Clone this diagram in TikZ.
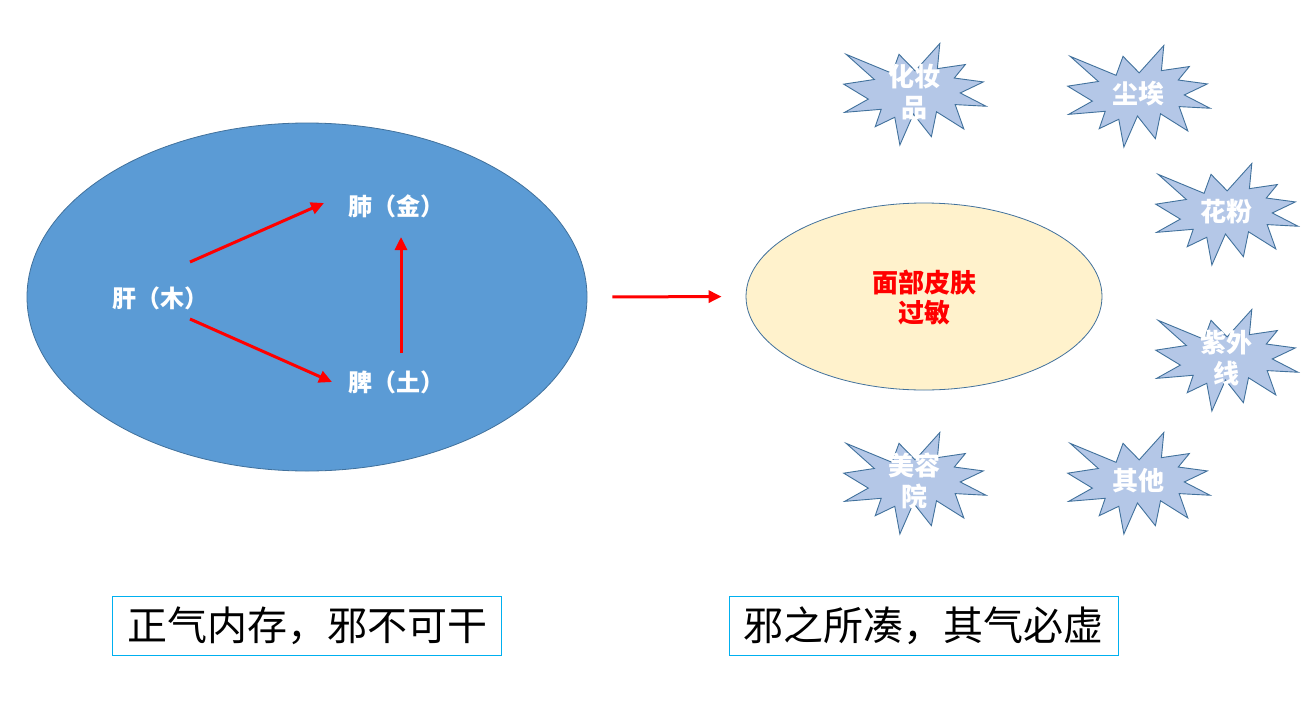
\documentclass[tikz,border=0pt]{standalone}
\usepackage{fontspec}
\setmainfont{Noto Sans CJK SC}
\usetikzlibrary{shapes.geometric,arrows.meta}
\definecolor{bigblue}{HTML}{5B9BD5}
\definecolor{edgeblue}{HTML}{41719C}
\definecolor{burstfill}{HTML}{B4C7E7}
\definecolor{paleyellow}{HTML}{FFF2CC}
\definecolor{boxcyan}{HTML}{00B0F0}
\definecolor{pureRed}{HTML}{FF0000}
\tikzset{
  burst/.style={fill=burstfill,draw=edgeblue,line width=0.9pt,line join=miter},
  bursttext/.style={text=white,align=center,inner sep=0pt,font=\fontsize{26}{31}\selectfont\bfseries},
  elemtext/.style={text=white,inner sep=0pt,font=\fontsize{24}{29}\selectfont\bfseries},
  redarrow/.style={draw=pureRed,line width=3pt,-{Triangle[length=13pt,width=12pt]}},
  quotebox/.style={draw=boxcyan,line width=1pt,minimum width=389pt,minimum height=59pt,inner sep=0pt,font=\fontsize{40}{44}\selectfont,text=black}
}
\newcommand{\mkburst}[4]{%
  \begin{scope}[shift={(#2,#3)},xscale=143,yscale=102]
    \draw[burst] (0.5047,0.2734) -- (0.3916,0.1111) -- (0.3434,0.2975) -- (0.0220,0.1111)
      -- (0.2191,0.3575) -- (0.0049,0.4036) -- (0.1772,0.5500) -- (0.0113,0.6800)
      -- (0.2672,0.6500) -- (0.2254,0.8203) -- (0.3620,0.7282) -- (0.3977,1.0)
      -- (0.4925,0.6962) -- (0.6180,0.9185) -- (0.6539,0.6741) -- (0.8448,0.8424)
      -- (0.7842,0.6039) -- (1.0,0.6200) -- (0.8199,0.4898) -- (0.9814,0.3816)
      -- (0.7781,0.3434) -- (0.8556,0.2111) -- (0.6600,0.2513) -- (0.6770,0.0049) -- cycle;
  \end{scope}
  \node[bursttext] (#1) at (#2+71,#3+49) {#4};
}
\begin{document}
\begin{tikzpicture}[x=1pt,y=-1pt]
\fill[white] (0,0) rectangle (1308,707);
\useasboundingbox (0,0) rectangle (1308,707);

% left ellipse
\node[ellipse,fill=bigblue,draw=edgeblue,line width=0.8pt,minimum width=560pt,minimum height=348pt,inner sep=0pt] (body) at (307,297) {};
\node[elemtext] (gan) at (160,298) {肝（木）};
\node[elemtext] (fei) at (396,206) {肺（金）};
\node[elemtext] (pi) at (396,382) {脾（土）};
\coordinate (ganA) at (190,262);
\coordinate (feiA) at (324,203);
\coordinate (ganB) at (190,319);
\coordinate (piA) at (332,382);
\coordinate (piB) at (401,353);
\coordinate (feiB) at (401,237);
\draw[redarrow] (ganA) -- (feiA);
\draw[redarrow] (ganB) -- (piA);
\draw[redarrow] (piB) -- (feiB);

% right ellipse
\node[ellipse,fill=paleyellow,draw=edgeblue,line width=0.8pt,minimum width=356pt,minimum height=187pt,inner sep=0pt] (skin) at (924,296.5) {};
\node[text=pureRed,align=center,inner sep=0pt,font=\fontsize{26}{30}\selectfont\bfseries] (skintext) at (924,298) {面部皮肤\\过敏};

\draw[redarrow,shorten <=25pt,shorten >=24pt] (body.east) -- (skin.west);

% starbursts
\mkburst{cosm}{843}{43}{化妆\\品}
\mkburst{dust}{1067}{45}{尘埃}
\mkburst{pollen}{1155}{163}{花粉}
\mkburst{uv}{1155}{309}{紫外\\线}
\mkburst{salon}{843}{432}{美容\\院}
\mkburst{other}{1067}{432}{其他}

% quote boxes
\node[quotebox] (q1) at (307,625.5) {正气内存，邪不可干};
\node[quotebox] (q2) at (923.5,625.5) {邪之所凑，其气必虚};
\end{tikzpicture}
\end{document}
